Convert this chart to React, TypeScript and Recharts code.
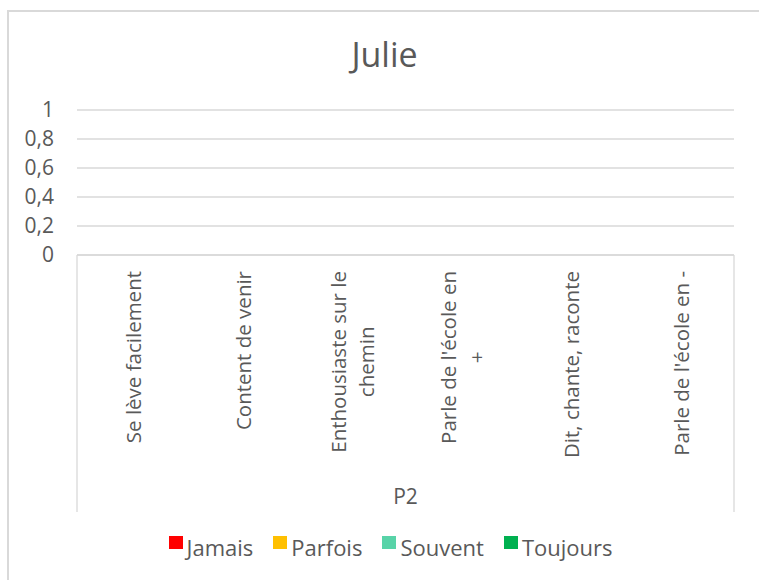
import React from 'react';
import { BarChart, Bar, XAxis, YAxis, CartesianGrid, Legend, Customized } from 'recharts';

// chart values (all empty in the source sheet)
const categories = [
  'Se lève facilement',
  'Content de venir',
  'Enthousiaste sur le\nchemin',
  "Parle de l'école en\n+",
  'Dit, chante, raconte',
  "Parle de l'école en -",
];
const jamais = [0, 0, 0, 0, 0, 0];
const parfois = [0, 0, 0, 0, 0, 0];
const souvent = [0, 0, 0, 0, 0, 0];
const toujours = [0, 0, 0, 0, 0, 0];
const yTicks = [0, 0.2, 0.4, 0.6, 0.8, 1];
const groupLabel = 'P2';
const title = 'Julie';

const data = categories.map((name, i) => ({
  name,
  jamais: jamais[i],
  parfois: parfois[i],
  souvent: souvent[i],
  toujours: toujours[i],
}));

const FONT = '"Open Sans", sans-serif';
const TEXT = '#595959';
const GRID = '#d9d9d9';

const W = 759;
const H = 580;
const M = { top: 110, right: 25, left: 7, bottom: 68 };
const Y_W = 70;
const X_H = 257;
const plotLeft = M.left + Y_W;
const plotRight = W - M.right;
const plotBottom = H - M.bottom - X_H;

let ctx: CanvasRenderingContext2D | null = null;
const measure = (s: string, size: number) => {
  if (!ctx) ctx = document.createElement('canvas').getContext('2d');
  if (!ctx) return s.length * size * 0.5;
  ctx.font = `${size}px "Open Sans"`;
  return ctx.measureText(s).width;
};

// rotated category label, block end-aligned at top, lines centered in block
const CategoryTick = ({ x, y, payload }: any) => {
  const lines = String(payload.value).split('\n');
  const size = 20.5;
  const maxW = Math.max(...lines.map((l) => measure(l, size)));
  const lh = 28;
  const first = -((lines.length - 1) * lh) / 2;
  return (
    <g transform={`translate(${x + 2},${y + 16})`}>
      {lines.map((l, i) => (
        <text
          key={i}
          transform="rotate(-90)"
          x={-maxW / 2}
          y={first + i * lh}
          dy="0.36em"
          textAnchor="middle"
          fill={TEXT}
          fontSize={size}
          fontFamily={FONT}
        >
          {l}
        </text>
      ))}
    </g>
  );
};

const Frame = () => (
  <g>
    <text x={W / 2 + 5} y={67} textAnchor="middle" fill={TEXT} fontSize={34} fontFamily={FONT}>
      {title}
    </text>
    <line x1={plotLeft} x2={plotLeft} y1={plotBottom} y2={plotBottom + X_H} stroke={GRID} strokeWidth={1.3} />
    <line x1={plotRight} x2={plotRight} y1={plotBottom} y2={plotBottom + X_H} stroke={GRID} strokeWidth={1.3} />
    <text
      x={(plotLeft + plotRight) / 2}
      y={504}
      textAnchor="middle"
      fill={TEXT}
      fontSize={21}
      fontFamily={FONT}
    >
      {groupLabel}
    </text>
  </g>
);

const renderLegend = (props: any) => {
  const { payload } = props;
  return (
    <div
      style={{
        display: 'flex',
        justifyContent: 'center',
        fontFamily: FONT,
        fontSize: 22,
        color: TEXT,
        paddingLeft: 42,
      }}
    >
      {payload.map((e: any, i: number) => (
        <div key={i} style={{ display: 'flex', alignItems: 'flex-start', marginRight: 20 }}>
          <span
            style={{
              width: 14,
              height: 13,
              marginTop: 4,
              marginRight: 4,
              background: e.color,
              display: 'inline-block',
            }}
          />
          <span>{e.value}</span>
        </div>
      ))}
    </div>
  );
};

export default function App() {
  return (
    <div style={{ position: 'absolute', left: 0, top: 0, width: W, height: H, background: '#fff' }}>
      <div
        style={{
          position: 'absolute',
          left: 7,
          top: 10,
          width: 780,
          height: 620,
          border: `2px solid ${GRID}`,
          boxSizing: 'border-box',
        }}
      />
      <BarChart width={W} height={H} data={data} margin={M} style={{ position: 'absolute', left: 0, top: 0 }}>
        <CartesianGrid vertical={false} stroke={GRID} strokeWidth={1.3} />
        <XAxis
          dataKey="name"
          height={X_H}
          interval={0}
          axisLine={{ stroke: GRID, strokeWidth: 1.3 }}
          tickLine={false}
          tickSize={0}
          tickMargin={0}
          tick={<CategoryTick />}
        />
        <YAxis
          width={Y_W}
          domain={[0, 1]}
          ticks={yTicks}
          interval={0}
          axisLine={false}
          tickLine={false}
          tickSize={0}
          tickMargin={23}
          tick={{ fill: TEXT, fontSize: 21, fontFamily: FONT }}
          tickFormatter={(v: number) => String(v).replace('.', ',')}
        />
        <Legend
          verticalAlign="middle"
          layout="horizontal"
          content={renderLegend}
          wrapperStyle={{ top: 532, left: 0, width: W, bottom: 'auto' }}
        />
        <Bar dataKey="jamais" name="Jamais" fill="#FF0000" isAnimationActive={false} />
        <Bar dataKey="parfois" name="Parfois" fill="#FFC000" isAnimationActive={false} />
        <Bar dataKey="souvent" name="Souvent" fill="#58D3A8" isAnimationActive={false} />
        <Bar dataKey="toujours" name="Toujours" fill="#00B050" isAnimationActive={false} />
        <Customized component={Frame} />
      </BarChart>
    </div>
  );
}
